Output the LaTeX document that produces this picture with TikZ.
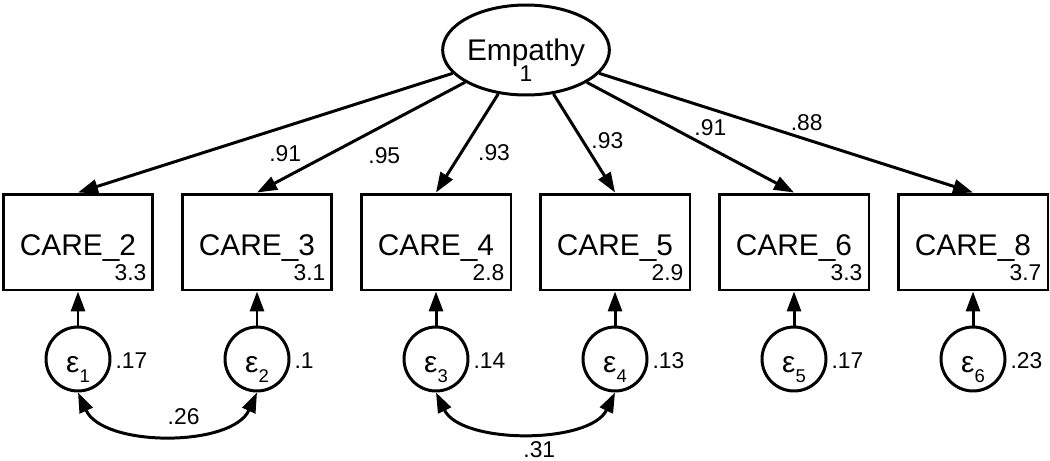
\documentclass[tikz,border=0pt]{standalone}
\usepackage{fontspec}
\setmainfont{Liberation Sans}
\usepackage{tikz}
\usetikzlibrary{shapes.geometric, arrows.meta, positioning, calc}
\tikzset{
    latent/.style={ellipse, draw=black, line width=1.7pt, minimum width=2.92cm, minimum height=1.8cm, inner sep=0pt, text height=11.4pt, text depth=0pt, font=\fontsize{17}{20}\selectfont},
    observed/.style={rectangle, draw=black, line width=1.7pt, minimum width=3cm, minimum height=1.92cm, inner sep=0pt, text height=14.8pt, text depth=0pt, font=\fontsize{17}{20}\selectfont},
    errnode/.style={circle, draw=black, line width=1.7pt, minimum size=1.28cm, inner sep=0pt, text height=15.5pt, text depth=0pt, font=\fontsize{17}{20}\selectfont},
    coef/.style={inner sep=1pt, font=\fontsize{13}{15}\selectfont},
    path/.style={line width=1.7pt, -{Triangle[length=0.4cm, width=0.28cm]}},
    covpath/.style={line width=1.7pt, {Triangle[length=0.4cm, width=0.28cm]}-{Triangle[length=0.4cm, width=0.28cm]}}
}
\newcommand{\errlab}[1]{ε\raisebox{-5.5pt}{\fontsize{10.5}{12}\selectfont #1}}

\begin{document}
\begin{tikzpicture}[x=0.02cm, y=-0.02cm]
    \useasboundingbox (0,0) rectangle (1050,460);

    % latent variable
    \node (emp) [latent] at (526,50) {Empathy};
    \node (empvar) [coef] at (526,74) {1};

    % observed variables
    \node (care2) [observed] at (78,242) {CARE\_2};
    \node (care3) [observed] at (257,242) {CARE\_3};
    \node (care4) [observed] at (436,242) {CARE\_4};
    \node (care5) [observed] at (615,242) {CARE\_5};
    \node (care6) [observed] at (794,242) {CARE\_6};
    \node (care8) [observed] at (973,242) {CARE\_8};

    % intercepts
    \node (int2) [coef, anchor=south east] at ($(care2.south east)+(-6,-9)$) {3.3};
    \node (int3) [coef, anchor=south east] at ($(care3.south east)+(-6,-9)$) {3.1};
    \node (int4) [coef, anchor=south east] at ($(care4.south east)+(-6,-9)$) {2.8};
    \node (int5) [coef, anchor=south east] at ($(care5.south east)+(-6,-9)$) {2.9};
    \node (int6) [coef, anchor=south east] at ($(care6.south east)+(-6,-9)$) {3.3};
    \node (int8) [coef, anchor=south east] at ($(care8.south east)+(-6,-9)$) {3.7};

    % error terms
    \node (e1) [errnode] at (78,359) {\errlab{1}};
    \node (e2) [errnode] at (257,359) {\errlab{2}};
    \node (e3) [errnode] at (436,359) {\errlab{3}};
    \node (e4) [errnode] at (615,359) {\errlab{4}};
    \node (e5) [errnode] at (794,359) {\errlab{5}};
    \node (e6) [errnode] at (973,359) {\errlab{6}};

    % error variances
    \node (v1) [coef, anchor=west] at ($(e1.east)+(2,2)$) {.17};
    \node (v2) [coef, anchor=west] at ($(e2.east)+(2,2)$) {.1};
    \node (v3) [coef, anchor=west] at ($(e3.east)+(2,2)$) {.14};
    \node (v4) [coef, anchor=west] at ($(e4.east)+(2,2)$) {.13};
    \node (v5) [coef, anchor=west] at ($(e5.east)+(2,2)$) {.17};
    \node (v6) [coef, anchor=west] at ($(e6.east)+(2,2)$) {.23};

    % loadings
    \draw [path] (emp) -- node[coef, pos=0.447, yshift=-15.4pt] {.91} (care2.north);
    \draw [path] (emp) -- node[coef, pos=0.388, yshift=-17.6pt] {.95} (care3.north);
    \draw [path] (emp) -- node[coef, pos=0.598, xshift=18.8pt] {.93} (care4.north);
    \draw [path] (emp) -- node[coef, pos=0.47, xshift=14.2pt] {.93} (care5.north);
    \draw [path] (emp) -- node[coef, pos=0.596, yshift=11.8pt] {.91} (care6.north);
    \draw [path] (emp) -- node[coef, pos=0.555, yshift=9.8pt] {.88} (care8.north);

    % errors to indicators
    \draw [path] (e1) -- (care2);
    \draw [path] (e2) -- (care3);
    \draw [path] (e3) -- (care4);
    \draw [path] (e4) -- (care5);
    \draw [path] (e5) -- (care6);
    \draw [path] (e6) -- (care8);

    % error covariances
    \draw [covpath] (e1.south) .. controls +(25,55) and +(-25,55) .. node[coef, pos=0.57, yshift=9.1pt] {.26} (e2.south);
    \draw [covpath] (e3.south) .. controls +(25,52) and +(-25,52) .. node[coef, pos=0.56, yshift=-10.6pt] {.31} (e4.south);
\end{tikzpicture}
\end{document}
